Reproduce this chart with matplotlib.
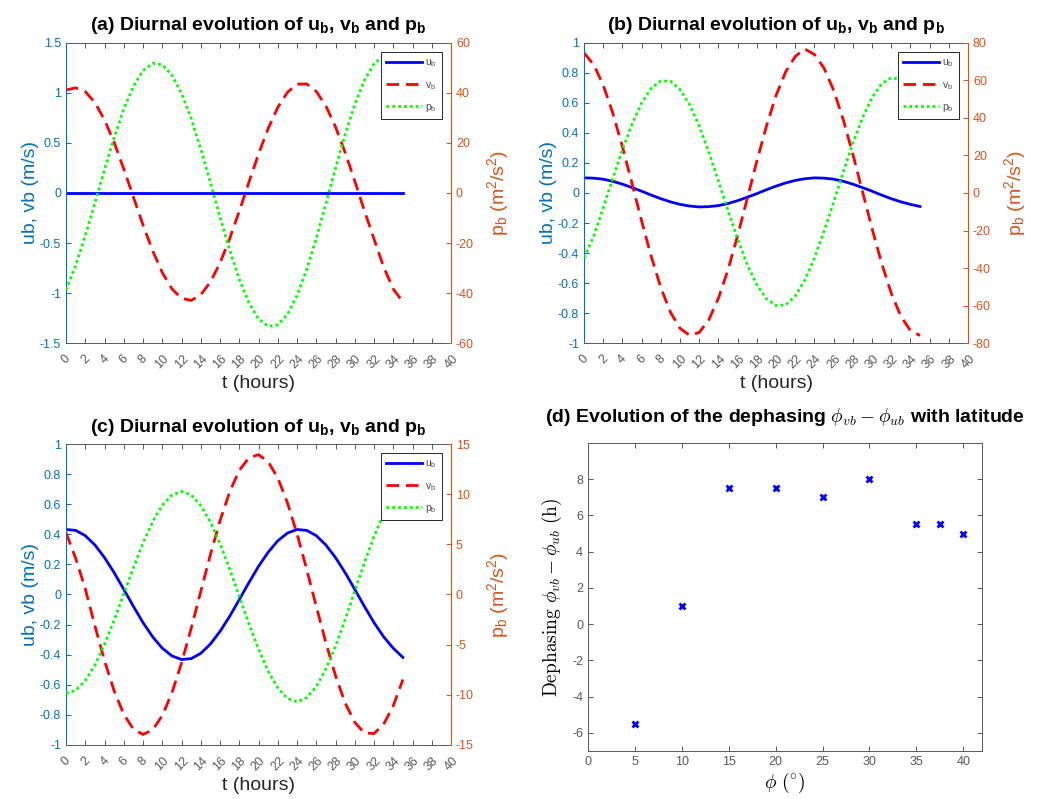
import numpy as np
import matplotlib
matplotlib.use('Agg')
import matplotlib.pyplot as plt
from matplotlib.ticker import FuncFormatter

plt.rcParams['font.family'] = ['Liberation Sans', 'DejaVu Sans']
plt.rcParams['axes.unicode_minus'] = False
plt.rcParams['mathtext.fontset'] = 'custom'
plt.rcParams['mathtext.rm'] = 'Liberation Sans'
plt.rcParams['mathtext.it'] = 'Liberation Sans:italic'
plt.rcParams['mathtext.bf'] = 'Liberation Sans:bold'

# hours of the simulation
t = list(range(36))

# panel (a)
ub_a = [0.0] * 36
vb_a = [1.03, 1.052, 1.014, 0.905, 0.730, 0.504, 0.240, -0.041, -0.321, -0.578,
        -0.796, -0.958, -1.053, -1.074, -1.018, -0.890, -0.699, -0.456, -0.181, 0.108,
        0.390, 0.646, 0.856, 1.007, 1.088, 1.091, 1.016, 0.870, 0.661, 0.405,
        0.119, -0.177, -0.461, -0.74, -0.96, -1.09]
pb_a = [-38.8, -28.9, -17.1, -4.0, 9.4, 22.2, 33.6, 42.7, 49.0, 51.9,
        51.3, 47.2, 39.8, 29.8, 17.6, 4.1, -9.6, -22.8, -34.5, -43.9,
        -50.4, -53.3, -52.7, -48.6, -41.0, -30.6, -18.1, -4.2, 9.9, 23.5,
        35.4, 45.1, 51.7, 54.8, 54.2, 49.8]

# panel (b)
ub_b = [0.101, 0.099, 0.092, 0.078, 0.059, 0.036, 0.012, -0.014, -0.038, -0.059,
        -0.076, -0.087, -0.093, -0.091, -0.084, -0.070, -0.051, -0.028, -0.004, 0.022,
        0.046, 0.067, 0.084, 0.095, 0.101, 0.099, 0.092, 0.078, 0.059, 0.036,
        0.012, -0.014, -0.038, -0.059, -0.076, -0.090]
vb_b = [0.934, 0.856, 0.719, 0.531, 0.308, 0.062, -0.187, -0.424, -0.632, -0.795,
        -0.903, -0.949, -0.929, -0.845, -0.701, -0.510, -0.283, -0.036, 0.213, 0.447,
        0.651, 0.808, 0.911, 0.960, 0.923, 0.832, 0.684, 0.488, 0.258, 0.010,
        -0.238, -0.469, -0.669, -0.822, -0.918, -0.950]
pb_b = [-34.5, -23.2, -7.9, 7.9, 23.2, 36.9, 48.0, 55.9, 59.8, 59.6,
        55.2, 47.1, 35.6, 21.7, 6.3, -9.5, -24.7, -38.2, -49.0, -56.4,
        -60.0, -59.7, -54.9, -46.4, -34.7, -20.4, -4.8, 11.3, 26.6, 40.1,
        50.9, 58.3, 61.5, 60.5, 55.1, 46.1]

# panel (c)
ub_c = [0.432, 0.426, 0.391, 0.329, 0.245, 0.145, 0.034, -0.079, -0.187, -0.281,
        -0.357, -0.408, -0.432, -0.426, -0.391, -0.329, -0.245, -0.145, -0.034, 0.079,
        0.187, 0.281, 0.357, 0.408, 0.432, 0.426, 0.391, 0.329, 0.245, 0.145,
        0.034, -0.079, -0.187, -0.281, -0.357, -0.418]
vb_c = [0.41, 0.24, 0.037, -0.209, -0.441, -0.641, -0.796, -0.895, -0.930, -0.899,
        -0.805, -0.653, -0.455, -0.225, 0.021, 0.266, 0.491, 0.682, 0.825, 0.909,
        0.929, 0.883, 0.774, 0.610, 0.403, 0.168, -0.079, -0.321, -0.540, -0.721,
        -0.850, -0.920, -0.924, -0.862, -0.739, -0.565]
pb_c = [-9.85, -9.55, -8.58, -7.02, -4.96, -2.55, 0.06, 2.69, 5.14, 7.26,
        8.89, 9.92, 10.27, 9.92, 8.87, 7.22, 5.06, 2.53, -0.20, -2.92,
        -5.46, -7.65, -9.31, -10.36, -10.69, -10.29, -9.17, -7.42, -5.14, -2.49,
        0.34, 3.17, 5.80, 8.04, 9.75, 10.79]

# panel (d)
latitude = [5, 10, 15, 20, 25, 30, 35, 37.5, 40]
dephasing = [-5.5, 1, 7.5, 7.5, 7, 8, 5.5, 5.5, 5]

# matlab-ish colours
c_left = (0.0, 0.447, 0.741)
c_right = (0.85, 0.325, 0.098)
c_axis = (0.35, 0.35, 0.35)

fmt = FuncFormatter(lambda v, p: '%g' % (round(v, 6) + 0.0))


def diurnal_panel(rect, letter, ub, vb, pb, lim_l, step_l, lim_r, step_r):
    ax = fig.add_axes(rect)
    ax2 = ax.twinx()
    l1, = ax.plot(t, ub, color='blue', lw=2)
    l2, = ax.plot(t, vb, color='red', lw=2, dashes=(4.5, 2.5))
    l3, = ax2.plot(t, pb, color='lime', lw=2, dashes=(1, 1.1))

    ax.set_xlim(0, 40)
    ax.set_xticks(np.arange(0, 41, 2))
    ax.set_ylim(*lim_l)
    ax.set_yticks(np.arange(lim_l[0], lim_l[1] + 1e-9, step_l))
    ax2.set_ylim(*lim_r)
    ax2.set_yticks(np.arange(lim_r[0], lim_r[1] + 1e-9, step_r))
    ax.yaxis.set_major_formatter(fmt)
    ax2.yaxis.set_major_formatter(fmt)

    for lab in ax.get_xticklabels():
        lab.set_rotation(45)
        lab.set_ha('center')
        lab.set_va('top')

    ax.tick_params(axis='x', direction='in', top=True, length=3.5, labelsize=9,
                   colors=c_axis, pad=7, width=0.7)
    ax.tick_params(axis='y', direction='in', length=3.5, labelsize=9,
                   colors=c_left, width=0.7)
    ax2.tick_params(axis='y', direction='in', length=3.5, labelsize=9,
                    colors=c_right, width=0.7)

    for s in ['top', 'bottom']:
        ax.spines[s].set_color(c_axis)
        ax.spines[s].set_linewidth(0.7)
        ax2.spines[s].set_visible(False)
    ax.spines['left'].set_color(c_left)
    ax.spines['right'].set_visible(False)
    ax2.spines['left'].set_visible(False)
    ax2.spines['right'].set_color(c_right)

    ax.set_xlabel('t (hours)', fontsize=14, color=(0.15, 0.15, 0.15), labelpad=3)
    ax.set_ylabel('ub, vb (m/s)', fontsize=14, color=c_left, labelpad=0.5)
    ax2.set_ylabel(r'p$_\mathrm{b}$ (m$^2$/s$^2$)', fontsize=14, color=c_right, labelpad=8)
    ax.set_title(r'(%s) Diurnal evolution of u$_\mathbf{b}$, v$_\mathbf{b}$ and p$_\mathbf{b}$' % letter,
                 fontsize=14, fontweight='bold', pad=9)

    leg = ax2.legend([l1, l2, l3], [r'u$_\mathrm{b}$', r'v$_\mathrm{b}$', r'p$_\mathrm{b}$'],
                     loc='upper right', fontsize=7.5, handlelength=3.4, labelspacing=1.0,
                     borderaxespad=0.9, fancybox=False, framealpha=1,
                     edgecolor=(0.15, 0.15, 0.15), borderpad=0.5, handletextpad=0.3)
    leg.get_frame().set_linewidth(0.7)
    for txt in leg.get_texts():
        txt.set_color((0.3, 0.3, 0.3))
    return ax


fig = plt.figure(figsize=(10.45, 7.99), dpi=100)

diurnal_panel([0.0632, 0.5707, 0.3684, 0.3755], 'a', ub_a, vb_a, pb_a,
              (-1.5, 1.5), 0.5, (-60, 60), 20)
diurnal_panel([0.5589, 0.5707, 0.3675, 0.3755], 'b', ub_b, vb_b, pb_b,
              (-1, 1), 0.2, (-80, 80), 20)
diurnal_panel([0.0632, 0.0676, 0.3684, 0.3767], 'c', ub_c, vb_c, pb_c,
              (-1, 1), 0.2, (-15, 15), 5)

# panel (d)
axd = fig.add_axes([0.5627, 0.0601, 0.377, 0.3855])
axd.plot(latitude, dephasing, 'x', color='blue', markersize=5, mew=2)
axd.set_xlim(0, 42)
axd.set_ylim(-7, 10)
axd.set_xticks(np.arange(0, 41, 5))
axd.set_yticks(np.arange(-6, 9, 2))
axd.tick_params(direction='in', top=True, right=True, length=3.5, labelsize=9,
                colors=c_axis, width=0.7)
for s in axd.spines.values():
    s.set_color(c_axis)
    s.set_linewidth(0.7)
axd.set_xlabel(r'$\phi\ (^{\circ})$', fontsize=14, math_fontfamily='cm', labelpad=2)
axd.set_ylabel(r'$\mathrm{Dephasing}\ \phi_{vb}-\phi_{ub}\ \mathrm{(h)}$', fontsize=14,
               math_fontfamily='cm', labelpad=6)
axd.set_title(r'(d) Evolution of the dephasing $\phi_{vb}-\phi_{ub}$ with latitude',
              fontsize=14, fontweight='bold', pad=15, math_fontfamily='cm')

fig.savefig('out.png', dpi=100)
